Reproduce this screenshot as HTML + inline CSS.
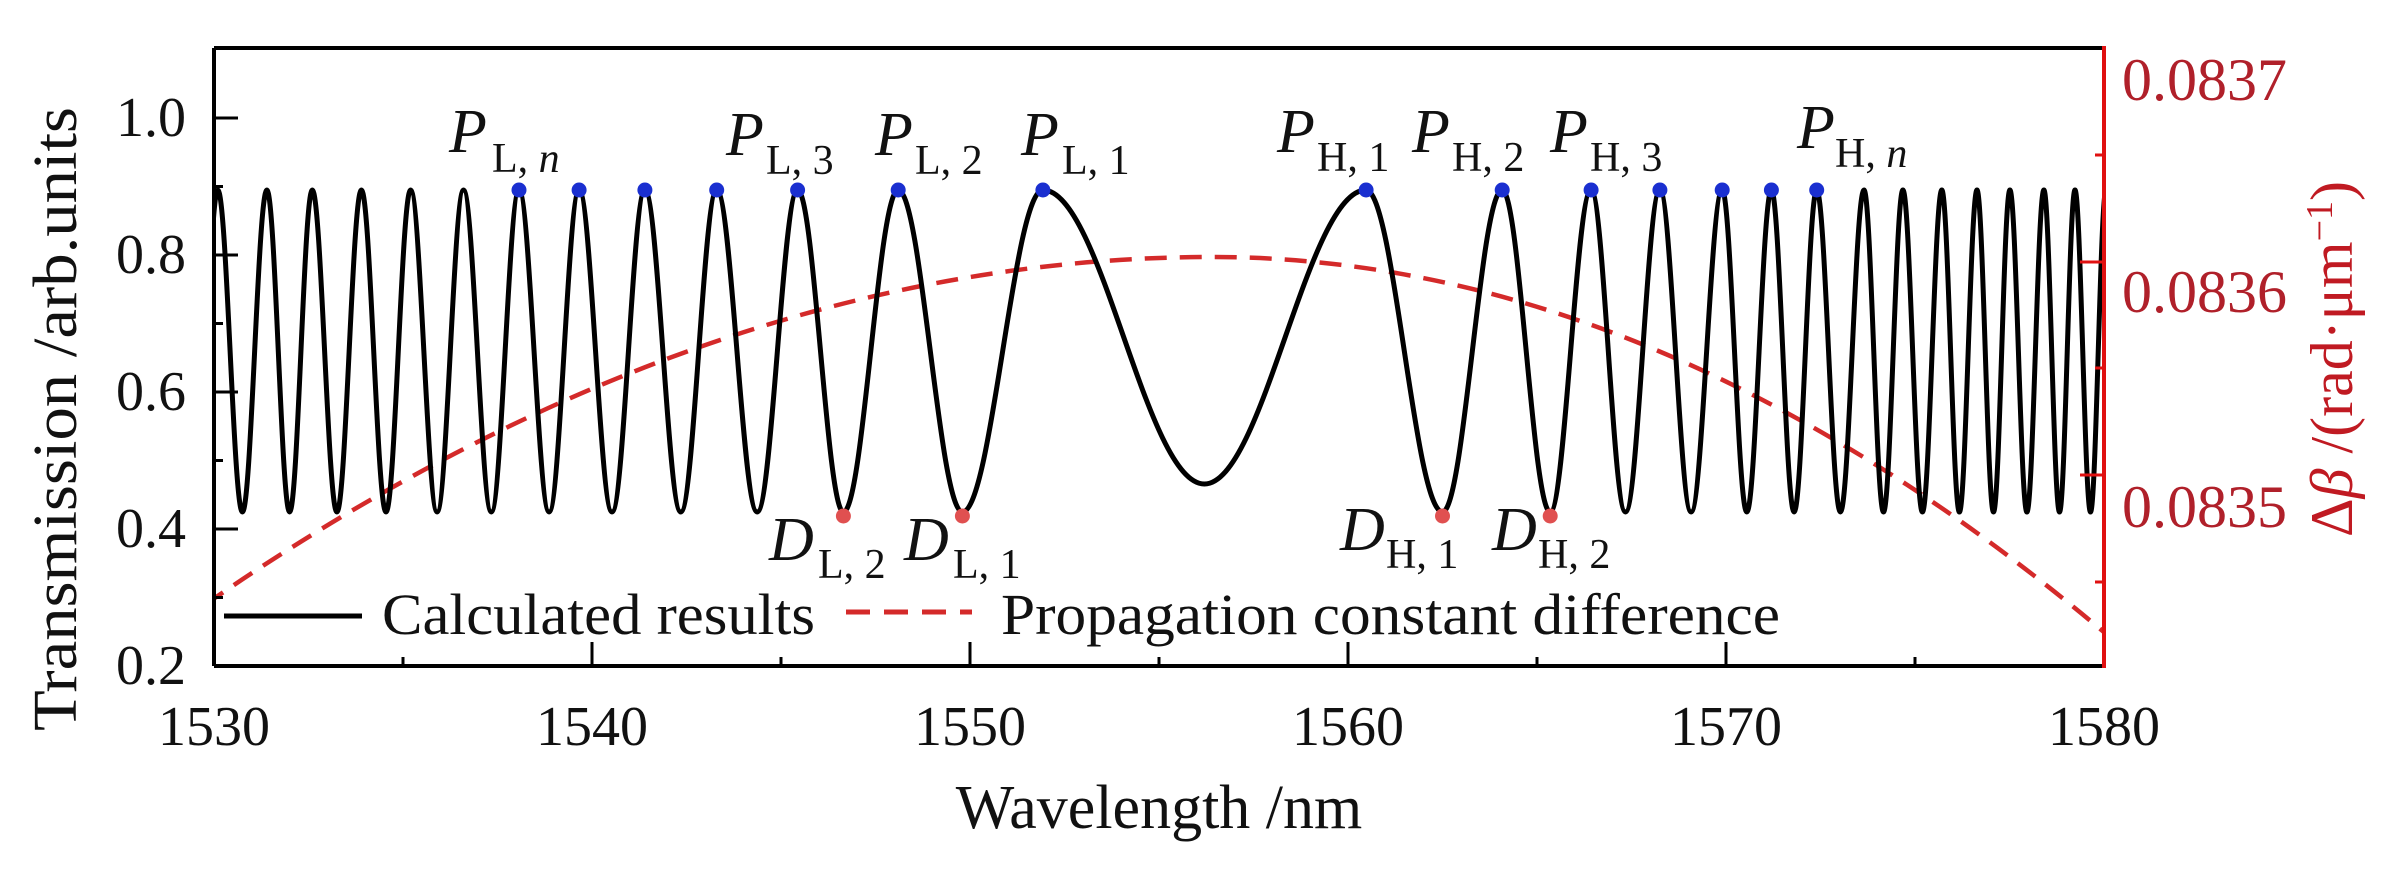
<!DOCTYPE html>
<html><head><meta charset="utf-8">
<style>
html,body{margin:0;padding:0;background:#fff;}
svg{display:block;}
text{font-family:"Liberation Serif",serif;}
</style></head>
<body>
<svg width="2395" height="882" viewBox="0 0 2395 882" xmlns="http://www.w3.org/2000/svg">
<defs><clipPath id="cp"><rect x="214" y="48" width="1890" height="618"/></clipPath></defs>
<g clip-path="url(#cp)">
<path fill="none" stroke="#d42a2a" stroke-width="4.5" stroke-dasharray="22,13" d="M176.2,624.9 Q694.05,257 1211.9,257 Q1677.35,257 2142.8,665.5"/>
<path fill="none" stroke="#000" stroke-width="5" stroke-linejoin="round" d="M172.4,190
C180.6,190 186.9,512 195.1,512
C203.3,512 209.6,190 217.8,190
C226.7,190 233.5,512 242.4,512
C251.3,512 258.0,190 266.9,190
C275.2,190 281.4,512 289.6,512
C297.9,512 304.0,190 312.3,190
C321.2,190 328.0,512 336.9,512
C345.8,512 352.5,190 361.4,190
C370.3,190 377.1,512 386.0,512
C394.9,512 401.7,190 410.6,190
C420.2,190 427.5,512 437.1,512
C446.7,512 453.9,190 463.5,190
C473.6,190 481.2,512 491.3,512
C501.4,512 508.9,190 519.0,190
C529.9,190 538.2,512 549.1,512
C560.0,512 568.2,190 579.1,190
C591.1,190 600.0,512 612.0,512
C624.0,512 632.9,190 644.9,190
C658.0,190 667.8,512 680.8,512
C693.8,512 703.7,190 716.7,190
C731.4,190 742.5,512 757.2,512
C771.9,512 782.9,190 797.6,190
C814.2,190 826.8,512 843.4,512
C863.3,512 878.3,190 898.2,190
C921.5,190 939.1,512 962.4,512
C991.7,512 1013.7,190 1042.9,190
C1101.6,190 1145.7,484 1204.4,484
C1263.2,484 1307.3,190 1366.1,190
C1393.9,190 1414.7,512 1442.5,512
C1464.2,512 1480.5,190 1502.2,190
C1519.6,190 1532.8,512 1550.2,512
C1565.1,512 1576.2,190 1591.1,190
C1603.6,190 1613.0,512 1625.5,512
C1638.0,512 1647.4,190 1659.9,190
C1671.2,190 1679.8,512 1691.1,512
C1702.4,512 1710.9,190 1722.2,190
C1731.1,190 1737.9,512 1746.8,512
C1755.7,512 1762.5,190 1771.4,190
C1779.7,190 1785.9,512 1794.1,512
C1802.3,512 1808.5,190 1816.7,190
C1825.3,190 1831.8,512 1840.4,512
C1849.0,512 1855.4,190 1864.0,190
C1871.1,190 1876.4,512 1883.5,512
C1890.6,512 1895.9,190 1902.9,190
C1910.0,190 1915.3,512 1922.4,512
C1929.5,512 1934.8,190 1941.8,190
C1948.2,190 1953.0,512 1959.4,512
C1965.8,512 1970.6,190 1977.0,190
C1983.0,190 1987.5,512 1993.5,512
C1999.5,512 2003.9,190 2009.9,190
C2016.1,190 2020.7,512 2026.9,512
C2033.1,512 2037.7,190 2043.9,190
C2049.6,190 2053.8,512 2059.5,512
C2065.1,512 2069.4,190 2075.0,190
C2080.6,190 2084.9,512 2090.5,512
C2096.1,512 2100.4,190 2106.0,190"/>
</g>
<g fill="#1a2fd0">
<circle cx="519.0" cy="190" r="7.5"/><circle cx="579.1" cy="190" r="7.5"/><circle cx="644.9" cy="190" r="7.5"/>
<circle cx="716.7" cy="190" r="7.5"/><circle cx="797.6" cy="190" r="7.5"/><circle cx="898.2" cy="190" r="7.5"/>
<circle cx="1042.9" cy="190" r="7.5"/><circle cx="1366.1" cy="190" r="7.5"/><circle cx="1502.2" cy="190" r="7.5"/>
<circle cx="1591.1" cy="190" r="7.5"/><circle cx="1659.9" cy="190" r="7.5"/><circle cx="1722.2" cy="190" r="7.5"/>
<circle cx="1771.4" cy="190" r="7.5"/><circle cx="1816.7" cy="190" r="7.5"/>
</g>
<g fill="#e05050">
<circle cx="843.4" cy="516" r="7.5"/><circle cx="962.4" cy="516" r="7.5"/>
<circle cx="1442.5" cy="516" r="7.5"/><circle cx="1550.2" cy="516" r="7.5"/>
</g>
<line x1="214" y1="48" x2="2104" y2="48" stroke="#000" stroke-width="4"/>
<line x1="214" y1="48" x2="214" y2="666" stroke="#000" stroke-width="4"/>
<line x1="214" y1="666" x2="2104" y2="666" stroke="#000" stroke-width="4"/>
<line x1="2104" y1="46" x2="2104" y2="668" stroke="#e01010" stroke-width="4"/>
<g stroke="#000" stroke-width="3">
<line x1="214" y1="118" x2="238" y2="118"/><line x1="214" y1="255" x2="238" y2="255"/>
<line x1="214" y1="392" x2="238" y2="392"/><line x1="214" y1="529" x2="238" y2="529"/>
<line x1="214" y1="186.5" x2="223" y2="186.5"/><line x1="214" y1="323.5" x2="223" y2="323.5"/>
<line x1="214" y1="460.5" x2="223" y2="460.5"/><line x1="214" y1="597.5" x2="223" y2="597.5"/>
<line x1="592" y1="666" x2="592" y2="642"/><line x1="970" y1="666" x2="970" y2="642"/>
<line x1="1348" y1="666" x2="1348" y2="642"/><line x1="1726" y1="666" x2="1726" y2="642"/>
<line x1="403" y1="666" x2="403" y2="657"/><line x1="781" y1="666" x2="781" y2="657"/>
<line x1="1159" y1="666" x2="1159" y2="657"/><line x1="1537" y1="666" x2="1537" y2="657"/>
<line x1="1915" y1="666" x2="1915" y2="657"/>
</g>
<g stroke="#e01010" stroke-width="3">
<line x1="2104" y1="262" x2="2080" y2="262"/><line x1="2104" y1="475" x2="2080" y2="475"/>
<line x1="2104" y1="155" x2="2095" y2="155"/><line x1="2104" y1="368" x2="2095" y2="368"/>
<line x1="2104" y1="582" x2="2095" y2="582"/>
</g>
<g font-size="56" fill="#111" text-anchor="end" dominant-baseline="central">
<text x="186" y="118">1.0</text><text x="186" y="255">0.8</text><text x="186" y="392">0.6</text>
<text x="186" y="529">0.4</text><text x="186" y="666">0.2</text>
</g>
<g font-size="56" fill="#111" text-anchor="middle">
<text x="214" y="745">1530</text><text x="592" y="745">1540</text><text x="970" y="745">1550</text>
<text x="1348" y="745">1560</text><text x="1726" y="745">1570</text><text x="2104" y="745">1580</text>
</g>
<g font-size="60" fill="#b0202a" dominant-baseline="central">
<text x="2122" y="80">0.0837</text><text x="2122" y="292">0.0836</text><text x="2122" y="507">0.0835</text>
</g>
<text x="1159" y="828" font-size="62" text-anchor="middle" fill="#111">Wavelength /nm</text>
<text transform="translate(76,419) rotate(-90)" font-size="62" text-anchor="middle" fill="#111" textLength="624" lengthAdjust="spacingAndGlyphs">Transmission /arb.units</text>
<text transform="translate(2352,359) rotate(-90)" font-size="60" text-anchor="middle" fill="#c01a22">Δ<tspan font-style="italic">β</tspan> /(rad·μm<tspan font-size="38" dy="-20">−1</tspan><tspan dy="20">)</tspan></text>
<line x1="224" y1="616" x2="362" y2="616" stroke="#000" stroke-width="5"/>
<text x="382" y="634" font-size="58" fill="#111" textLength="433" lengthAdjust="spacingAndGlyphs">Calculated results</text>
<line x1="846" y1="612" x2="972" y2="612" stroke="#d42a2a" stroke-width="5" stroke-dasharray="24,14"/>
<text x="1001" y="634" font-size="58" fill="#111" textLength="779" lengthAdjust="spacingAndGlyphs">Propagation constant difference</text>
<g fill="#111">
<text x="449" y="152" font-size="62" font-style="italic">P</text><text x="492" y="172" font-size="42">L, <tspan font-style="italic">n</tspan></text>
<text x="726" y="155" font-size="62" font-style="italic">P</text><text x="766" y="174" font-size="42">L, 3</text>
<text x="875" y="155" font-size="62" font-style="italic">P</text><text x="915" y="174" font-size="42">L, 2</text>
<text x="1021" y="155" font-size="62" font-style="italic">P</text><text x="1062" y="174" font-size="42">L, 1</text>
<text x="1277" y="152" font-size="62" font-style="italic">P</text><text x="1317" y="171" font-size="42">H, 1</text>
<text x="1412" y="152" font-size="62" font-style="italic">P</text><text x="1452" y="171" font-size="42">H, 2</text>
<text x="1550" y="152" font-size="62" font-style="italic">P</text><text x="1590" y="171" font-size="42">H, 3</text>
<text x="1797" y="148" font-size="62" font-style="italic">P</text><text x="1835" y="167" font-size="42">H, <tspan font-style="italic">n</tspan></text>
<text x="769" y="560" font-size="62" font-style="italic">D</text><text x="818" y="578" font-size="42">L, 2</text>
<text x="904" y="560" font-size="62" font-style="italic">D</text><text x="953" y="578" font-size="42">L, 1</text>
<text x="1340" y="550" font-size="62" font-style="italic">D</text><text x="1386" y="568" font-size="42">H, 1</text>
<text x="1492" y="550" font-size="62" font-style="italic">D</text><text x="1538" y="568" font-size="42">H, 2</text>
</g>
</svg>
</body></html>
